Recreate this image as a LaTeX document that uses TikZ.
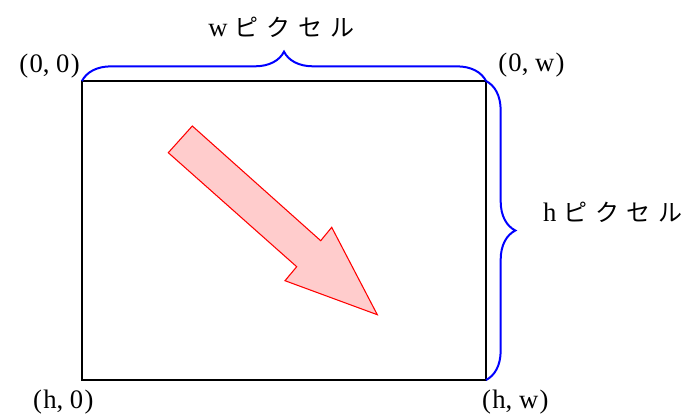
\documentclass[tikz,border=0pt]{standalone}
\usepackage{fontspec}
\setmainfont{Liberation Serif}
\newfontfamily\jpfont{Noto Sans CJK JP}
\usepackage{tikz}
\usetikzlibrary{positioning,decorations.pathreplacing}
\newcommand{\pixlabel}[1]{#1\kern5pt{\jpfont\fontsize{18}{22}\selectfont ピ\kern6pt ク\kern6pt セ\kern6pt ル}}
\newcommand{\cpos}[2]{(\kern1pt#1,\kern5pt#2\kern1pt)}
\begin{document}
\begin{tikzpicture}[x=0.75pt, y=-0.75pt, every node/.style={font=\fontsize{20}{22}\selectfont, inner sep=0pt}]
\tikzstyle{frame}=[draw, line width=1.5pt, minimum width=303pt, minimum height=224.25pt, outer sep=0pt]
\tikzstyle{brc}=[draw=blue, line width=1.5pt, decorate, decoration={brace, amplitude=22pt}]
\tikzstyle{bigarrow}=[draw=red, fill=red!20, line width=0.8pt, line join=miter]
\useasboundingbox (0,0) rectangle (692,415);
\node[frame] (img) at (284,230.5) {};
\draw[bigarrow] (168.3,152.7) -- (192.3,126) -- (320.7,240.7) -- (331.7,227.3) -- (377.3,314.7) -- (285,280.7) -- (296.7,266.7) -- cycle;
\draw[brc] (img.north west) -- node[xshift=-2pt, yshift=40pt] (wlbl) {\pixlabel{w}} (img.north east);
\draw[brc] (img.north east) -- node[anchor=west, xshift=42pt, yshift=14pt] (hlbl) {\pixlabel{h}} (img.south east);
\node[above left=2pt and 1.5pt of img.north west] (tl) {\cpos{0}{0}};
\node[above right=3pt and 9pt of img.north east] (tr) {\cpos{0}{w}};
\node[below=7pt of img.south west, xshift=-14pt] (bl) {\cpos{h}{0}};
\node[below=7pt of img.south east, xshift=22pt] (br) {\cpos{h}{w}};
\end{tikzpicture}
\end{document}
